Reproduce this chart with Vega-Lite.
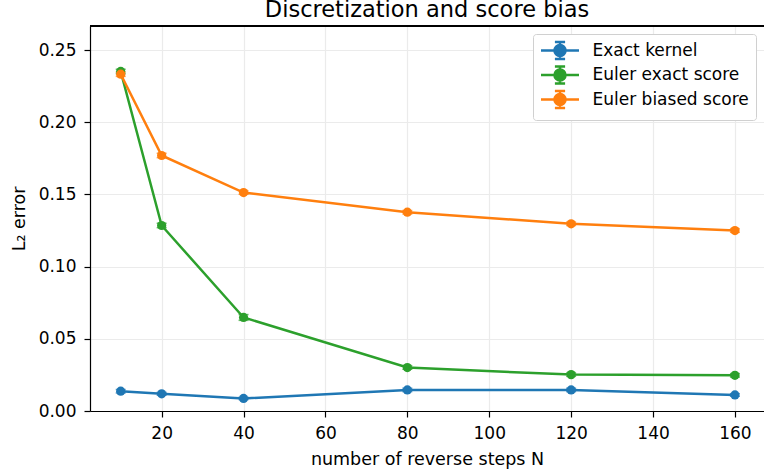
{
  "$schema": "https://vega.github.io/schema/vega-lite/v6.json",
  "autosize": {"type": "none"},
  "width": 674,
  "height": 385,
  "padding": {"left": 90, "top": 26, "right": 0, "bottom": 61},
  "background": "white",
  "config": {
    "font": "DejaVu Sans",
    "view": {"stroke": null},
    "axis": {
      "domainColor": "black",
      "domainWidth": 1.2,
      "tickColor": "black",
      "tickSize": 6,
      "tickWidth": 1.2,
      "labelFontSize": 17,
      "labelColor": "black",
      "labelPadding": 5,
      "titleFontSize": 17.5,
      "titleFontWeight": "normal",
      "titleColor": "black",
      "grid": true,
      "gridColor": "#ebebeb",
      "gridWidth": 1.2
    }
  },
  "title": {"text": "Discretization and score bias", "fontSize": 22.5, "fontWeight": "normal", "color": "black", "anchor": "middle", "offset": 4},
  "data": {
    "values": [
      {"N": 10, "series": "Exact kernel", "err": 0.0137, "e": 0.0012},
      {"N": 20, "series": "Exact kernel", "err": 0.0119, "e": 0.001},
      {"N": 40, "series": "Exact kernel", "err": 0.0087, "e": 0.0008},
      {"N": 80, "series": "Exact kernel", "err": 0.0146, "e": 0.0012},
      {"N": 120, "series": "Exact kernel", "err": 0.0146, "e": 0.0012},
      {"N": 160, "series": "Exact kernel", "err": 0.0111, "e": 0.0009},
      {"N": 10, "series": "Euler exact score", "err": 0.2352, "e": 0.0015},
      {"N": 20, "series": "Euler exact score", "err": 0.1285, "e": 0.0015},
      {"N": 40, "series": "Euler exact score", "err": 0.0648, "e": 0.002},
      {"N": 80, "series": "Euler exact score", "err": 0.0301, "e": 0.0012},
      {"N": 120, "series": "Euler exact score", "err": 0.0252, "e": 0.0012},
      {"N": 160, "series": "Euler exact score", "err": 0.0247, "e": 0.0012},
      {"N": 10, "series": "Euler biased score", "err": 0.2333, "e": 0.0015},
      {"N": 20, "series": "Euler biased score", "err": 0.1770, "e": 0.0015},
      {"N": 40, "series": "Euler biased score", "err": 0.1513, "e": 0.0012},
      {"N": 80, "series": "Euler biased score", "err": 0.1377, "e": 0.0012},
      {"N": 120, "series": "Euler biased score", "err": 0.1297, "e": 0.0012},
      {"N": 160, "series": "Euler biased score", "err": 0.1250, "e": 0.0012}
    ]
  },
  "layer": [
    {
      "mark": {"type": "line", "strokeWidth": 2.5},
      "encoding": {
        "x": {
          "field": "N", "type": "quantitative",
          "scale": {"domain": [2.5, 167.1], "nice": false, "zero": false},
          "axis": {"values": [20, 40, 60, 80, 100, 120, 140, 160], "title": "number of reverse steps N", "titlePadding": 9, "labelPadding": 8, "grid": true}
        },
        "y": {
          "field": "err", "type": "quantitative",
          "scale": {"domain": [0, 0.2667], "nice": false},
          "axis": {"values": [0, 0.05, 0.1, 0.15, 0.2, 0.25], "format": ".2f", "title": "L₂ error", "titlePadding": 10, "labelPadding": 8, "grid": true}
        },
        "color": {
          "field": "series", "type": "nominal",
          "scale": {"domain": ["Exact kernel", "Euler exact score", "Euler biased score"], "range": ["#1f77b4", "#2ca02c", "#ff7f0e"]},
          "legend": {
            "title": null,
            "orient": "top-right",
            "offset": 8,
            "labelFontSize": 17,
            "labelColor": "black",
            "symbolType": "M-1,0H3.47M1.235,-1V1M0.635,-1H1.835M0.635,1H1.835M0.585,0A0.65,0.65 0 1,1 1.885,0A0.65,0.65 0 1,1 0.585,0Z",
            "symbolSize": 289,
            "symbolStrokeWidth": 2.5,
            "rowPadding": -3.5,
            "labelOffset": 33,
            "padding": 6.5,
            "strokeColor": "#d0d0d0",
            "fillColor": "white",
            "cornerRadius": 3,
            "encode": {
              "symbols": {"update": {"fill": {"scale": "color", "field": "value"}, "stroke": {"scale": "color", "field": "value"}, "opacity": {"value": 1}}}
            }
          }
        }
      }
    },
    {
      "mark": {"type": "errorbar", "ticks": {"size": 10, "thickness": 1.5}, "thickness": 1.5},
      "encoding": {
        "x": {"field": "N", "type": "quantitative"},
        "y": {"field": "err", "type": "quantitative", "title": "L₂ error"},
        "yError": {"field": "e"},
        "color": {"field": "series", "type": "nominal"}
      }
    },
    {
      "mark": {"type": "point", "filled": true, "size": 85, "opacity": 1},
      "encoding": {
        "x": {"field": "N", "type": "quantitative"},
        "y": {"field": "err", "type": "quantitative", "title": "L₂ error"},
        "color": {"field": "series", "type": "nominal"}
      }
    },
    {
      "mark": {"type": "rule", "color": "black", "strokeWidth": 1.2},
      "encoding": {"y": {"datum": 0.2667, "type": "quantitative", "title": "L₂ error"}}
    }
  ]
}
